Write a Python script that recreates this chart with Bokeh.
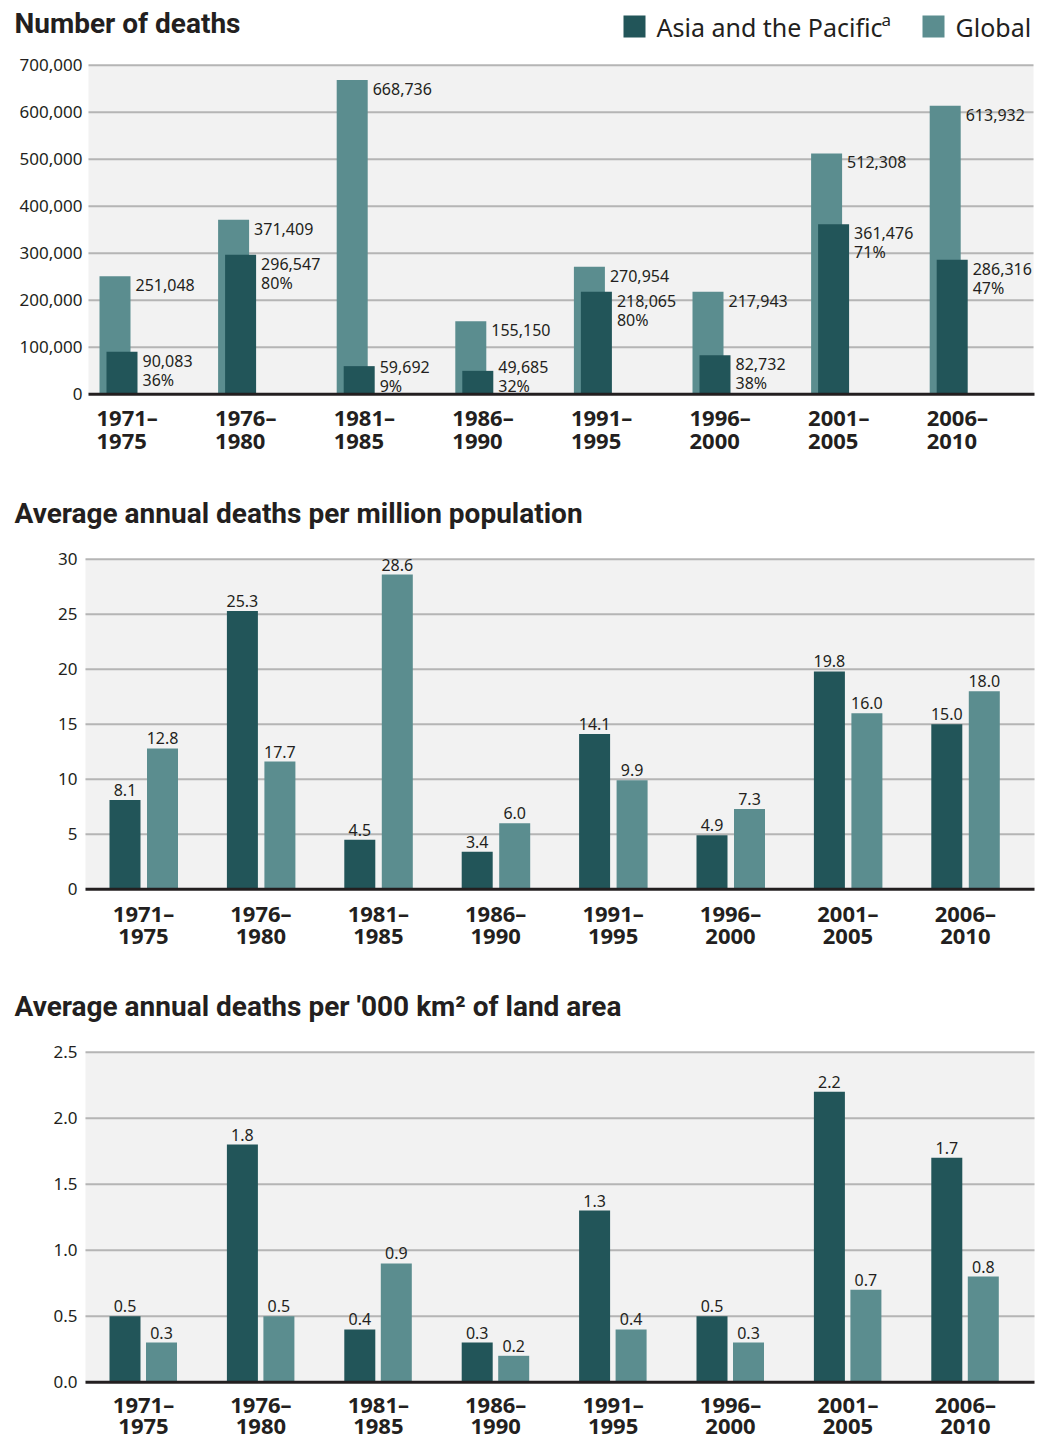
import numpy as np
from bokeh.plotting import figure
from bokeh.layouts import column
from bokeh.models import Range1d
from bokeh.core.properties import value
from bokeh.embed import file_html
from bokeh.resources import INLINE

# ---------------- data ----------------
period_start = ["1971–", "1976–", "1981–", "1986–", "1991–", "1996–", "2001–", "2006–"]
period_end = ["1975", "1980", "1985", "1990", "1995", "2000", "2005", "2010"]

deaths_asia = [90083, 296547, 59692, 49685, 218065, 82732, 361476, 286316]
deaths_global = [251048, 371409, 668736, 155150, 270954, 217943, 512308, 613932]
asia_share = ["36%", "80%", "9%", "32%", "80%", "38%", "71%", "47%"]
deaths_ticks = [0, 100000, 200000, 300000, 400000, 500000, 600000, 700000]
deaths_tick_labels = ["0", "100,000", "200,000", "300,000", "400,000", "500,000", "600,000", "700,000"]

pop_asia = [8.1, 25.3, 4.5, 3.4, 14.1, 4.9, 19.8, 15.0]
pop_global = [12.8, 17.7, 28.6, 6.0, 9.9, 7.3, 16.0, 18.0]
# bar heights as drawn in the reference (1976-1980 global bar is drawn lower than its label)
pop_global_drawn = [12.8, 11.6, 28.6, 6.0, 9.9, 7.3, 16.0, 18.0]
pop_ticks = [0, 5, 10, 15, 20, 25, 30]
pop_tick_labels = ["0", "5", "10", "15", "20", "25", "30"]

land_asia = [0.5, 1.8, 0.4, 0.3, 1.3, 0.5, 2.2, 1.7]
land_global = [0.3, 0.5, 0.9, 0.2, 0.4, 0.3, 0.7, 0.8]
land_ticks = [0.0, 0.5, 1.0, 1.5, 2.0, 2.5]
land_tick_labels = ["0.0", "0.5", "1.0", "1.5", "2.0", "2.5"]

# ---------------- styles ----------------
DARK = "#225559"
LIGHT = "#5b8d8f"
BG = "#f2f2f2"
GRID = "#b5b5b5"
INK = "#231f20"
FONT = value("Noto Sans")
TFONT = value("Roboto")
PAGE_W = 1044
PAGE_X0 = 0
idx = np.arange(len(period_start))


def make_panel(height, page_top, base_px, top_px, top_val, origin_px, spacing):
    ppu = (base_px - top_px) / top_val
    y0 = -(page_top + height - base_px) / ppu
    y1 = (base_px - page_top) / ppu
    x0 = (PAGE_X0 - origin_px) / spacing
    x1 = (PAGE_X0 + PAGE_W - origin_px) / spacing
    p = figure(width=PAGE_W, height=height, x_range=Range1d(x0, x1), y_range=Range1d(y0, y1),
               output_backend="svg", toolbar_location=None,
               x_axis_location=None, y_axis_location=None, min_border=0)
    p.outline_line_color = None
    p.xgrid.visible = False
    p.ygrid.visible = False
    p.background_fill_color = "white"
    p.border_fill_color = "white"
    X = lambda px: (px - origin_px) / spacing
    Y = lambda py: (base_px - py) / ppu
    return p, X, Y


def frame_bits(p, X, left_px, right_px, ticks, tick_labels, top_val, label_right_px):
    p.quad(left=X(left_px), right=X(right_px), bottom=0, top=top_val, fill_color=BG, line_color=None)
    p.segment(x0=X(left_px), x1=X(right_px), y0=ticks[1:], y1=ticks[1:], line_color=GRID, line_width=2)
    p.text(x=X(label_right_px), y=ticks, text=tick_labels, text_align="right", text_baseline="middle",
           text_font=FONT, text_font_size="17px", text_color=INK)


def baseline(p, X, left_px, right_px):
    p.segment(x0=X(left_px), x1=X(right_px), y0=0, y1=0, line_color=INK, line_width=3)


def title(p, X, Y, txt, mid_py):
    p.text(x=X(14), y=Y(mid_py), text=[txt], text_align="left", text_baseline="middle",
           text_font=TFONT, text_font_style="bold", text_font_size="28px", text_color=INK)


def cat_labels(p, x, align, off1=24.0, off2=47.5):
    p.text(x=x, y=0, text=period_start, y_offset=off1, text_align=align, text_baseline="middle",
           text_font=FONT, text_font_style="bold", text_font_size="22px", text_color=INK)
    p.text(x=x, y=0, text=period_end, y_offset=off2, text_align=align, text_baseline="middle",
           text_font=FONT, text_font_style="bold", text_font_size="22px", text_color=INK)


# ---------------- panel 1: number of deaths ----------------
sp1 = 118.6
p1, X1, Y1 = make_panel(478, 0, 393.7, 64.7, 700000, 99, sp1)
frame_bits(p1, X1, 88, 1033, deaths_ticks, deaths_tick_labels, 700000, 82)
bw1 = 31 / sp1
p1.vbar(x=idx + 15.5 / sp1, width=bw1, bottom=0, top=deaths_global, fill_color=LIGHT, line_color=None)
p1.vbar(x=idx + 22.5 / sp1, width=bw1, bottom=0, top=deaths_asia, fill_color=DARK, line_color=None)
baseline(p1, X1, 88, 1034)
p1.text(x=idx + 36 / sp1, y=deaths_global, text=[f"{v:,}" for v in deaths_global], y_offset=9,
        text_align="left", text_baseline="middle", text_font=FONT, text_font_size="16px", text_color=INK)
asia_lab_y = np.maximum(np.array(deaths_asia), 77000)
p1.text(x=idx + 43 / sp1, y=asia_lab_y, text=[f"{v:,}" for v in deaths_asia], y_offset=9,
        text_align="left", text_baseline="middle", text_font=FONT, text_font_size="16px", text_color=INK)
p1.text(x=idx + 43 / sp1, y=asia_lab_y, text=asia_share, y_offset=28,
        text_align="left", text_baseline="middle", text_font=FONT, text_font_size="16px", text_color=INK)
cat_labels(p1, idx - 3 / sp1, "left", 23.0, 47.0)
title(p1, X1, Y1, "Number of deaths", 22.5)
# legend
p1.quad(left=X1(623), right=X1(645), top=Y1(15), bottom=Y1(37), fill_color=DARK, line_color=None)
p1.text(x=X1(656), y=Y1(26.5), text=["Asia and the Pacific"], text_align="left", text_baseline="middle",
        text_font=FONT, text_font_size="25px", text_color=INK)
p1.text(x=X1(881), y=Y1(19), text=["a"], text_align="left", text_baseline="middle",
        text_font=FONT, text_font_size="17px", text_color=INK)
p1.quad(left=X1(922), right=X1(944), top=Y1(15), bottom=Y1(37), fill_color=LIGHT, line_color=None)
p1.text(x=X1(955), y=Y1(26.5), text=["Global"], text_align="left", text_baseline="middle",
        text_font=FONT, text_font_size="25px", text_color=INK)

# ---------------- panel 2: per million population ----------------
sp2 = 117.4
p2, X2, Y2 = make_panel(490, 478, 888.7, 558.7, 30, 109, sp2)
frame_bits(p2, X2, 85, 1034, pop_ticks, pop_tick_labels, 30, 77)
bw2 = 31 / sp2
p2.vbar(x=idx + 15.5 / sp2, width=bw2, bottom=0, top=pop_asia, fill_color=DARK, line_color=None)
p2.vbar(x=idx + 53 / sp2, width=bw2, bottom=0, top=pop_global_drawn, fill_color=LIGHT, line_color=None)
baseline(p2, X2, 85, 1034)
p2.text(x=idx + 15.5 / sp2, y=pop_asia, text=[f"{v:.1f}" for v in pop_asia], y_offset=-10,
        text_align="center", text_baseline="middle", text_font=FONT, text_font_size="16px", text_color=INK)
p2.text(x=idx + 53 / sp2, y=pop_global_drawn, text=[f"{v:.1f}" for v in pop_global], y_offset=-10,
        text_align="center", text_baseline="middle", text_font=FONT, text_font_size="16px", text_color=INK)
cat_labels(p2, idx + 34 / sp2, "center")
title(p2, X2, Y2, "Average annual deaths per million population", 513)

# ---------------- panel 3: per '000 km2 ----------------
sp3 = 117.4
p3, X3, Y3 = make_panel(473, 968, 1381.7, 1051.7, 2.5, 109, sp3)
frame_bits(p3, X3, 85, 1034, land_ticks, land_tick_labels, 2.5, 77)
bw3 = 31 / sp3
p3.vbar(x=idx + 15.5 / sp3, width=bw3, bottom=0, top=land_asia, fill_color=DARK, line_color=None)
p3.vbar(x=idx + 52 / sp3, width=bw3, bottom=0, top=land_global, fill_color=LIGHT, line_color=None)
baseline(p3, X3, 85, 1034)
p3.text(x=idx + 15.5 / sp3, y=land_asia, text=[f"{v:.1f}" for v in land_asia], y_offset=-10,
        text_align="center", text_baseline="middle", text_font=FONT, text_font_size="16px", text_color=INK)
p3.text(x=idx + 52 / sp3, y=land_global, text=[f"{v:.1f}" for v in land_global], y_offset=-10,
        text_align="center", text_baseline="middle", text_font=FONT, text_font_size="16px", text_color=INK)
cat_labels(p3, idx + 34 / sp3, "center", 22.0, 44.0)
title(p3, X3, Y3, "Average annual deaths per '000 km² of land area", 1006)

layout = column(p1, p2, p3, spacing=0)
open("out.html", "w").write(file_html(layout, INLINE))
